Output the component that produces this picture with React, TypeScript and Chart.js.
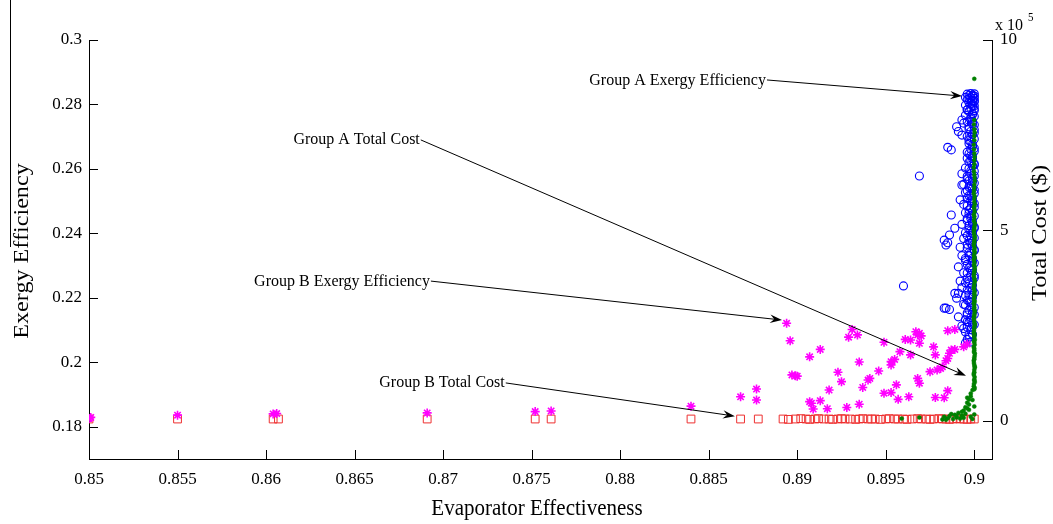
import React, { useEffect, useRef } from "react";
import { Chart, registerables } from "chart.js";

Chart.register(...registerables);

const FONT = '"Liberation Serif", "Times New Roman", serif';

const X_TICKS = [0.85, 0.855, 0.86, 0.865, 0.87, 0.875, 0.88, 0.885, 0.89, 0.895, 0.9];
const EFF_TICKS = [0.18, 0.2, 0.22, 0.24, 0.26, 0.28, 0.3];
const COST_TICKS = [0, 5, 10];

// Group A exergy efficiency (x = evaporator effectiveness, y = exergy efficiency)
const groupAExergy: [number, number][] = [
  [0.8996, 0.2832], [0.8998, 0.2834], [0.9, 0.2833], [0.8997, 0.2828], [0.8999, 0.2829], [0.9, 0.2826],
  [0.8995, 0.2822], [0.8998, 0.2821], [0.9, 0.2819], [0.8996, 0.2815], [0.8999, 0.2813], [0.9, 0.2809],
  [0.8997, 0.2806], [0.8999, 0.2801], [0.8995, 0.2798], [0.9, 0.2796], [0.8998, 0.279], [0.8996, 0.2784],
  [0.9, 0.2781], [0.8999, 0.2772],
  [0.8993, 0.2752], [0.899, 0.2731], [0.8991, 0.2716], [0.8994, 0.2742], [0.8993, 0.2705], [0.8996, 0.2783],
  [0.8995, 0.2767], [0.8998, 0.276], [0.8999, 0.2748], [0.9, 0.2737], [0.8997, 0.2724], [0.9, 0.2712],
  [0.8998, 0.2698], [0.8985, 0.2667], [0.8987, 0.2659], [0.8997, 0.2688], [0.8999, 0.2676], [0.9, 0.2664],
  [0.8996, 0.2652], [0.8998, 0.2641], [0.8969, 0.2578],
  [0.8999, 0.2632], [0.8997, 0.2621], [0.9, 0.2612], [0.8995, 0.2603], [0.8998, 0.2594], [0.8993, 0.2585],
  [0.9, 0.2578], [0.8996, 0.2569], [0.8999, 0.256], [0.8994, 0.2552], [0.8993, 0.255], [0.8992, 0.2504],
  [0.8997, 0.2544], [0.9, 0.2535], [0.8995, 0.2527], [0.8998, 0.2518], [0.8996, 0.2509], [0.8999, 0.2498],
  [0.8994, 0.249], [0.9, 0.2481], [0.8997, 0.2473], [0.8995, 0.2464], [0.8987, 0.2457], [0.8989, 0.2416],
  [0.8998, 0.2455], [0.8996, 0.2446], [0.8999, 0.2437], [0.8993, 0.2428], [0.9, 0.242], [0.8997, 0.2411],
  [0.8995, 0.2402],
  [0.8983, 0.2379], [0.8984, 0.2364], [0.8986, 0.2395], [0.8985, 0.2371], [0.8998, 0.2393], [0.8994, 0.2384],
  [0.8999, 0.2375], [0.8996, 0.2366], [0.8992, 0.2357], [0.9, 0.2349], [0.8997, 0.234], [0.8993, 0.2331],
  [0.8995, 0.2322], [0.8999, 0.2313], [0.8996, 0.2304], [0.8991, 0.2296], [0.8998, 0.2287], [0.8994, 0.2278],
  [0.9, 0.2269], [0.8996, 0.226], [0.8992, 0.2252], [0.8997, 0.2243], [0.896, 0.2237], [0.8993, 0.2232],
  [0.8999, 0.2225], [0.8989, 0.2214], [0.899, 0.2199], [0.8991, 0.2214], [0.8995, 0.2207], [0.8997, 0.219],
  [0.8984, 0.2168], [0.8983, 0.2168], [0.8986, 0.2164], [0.8994, 0.218], [0.8998, 0.2172], [0.8991, 0.2141],
  [0.8993, 0.2113], [0.8994, 0.2105], [0.8996, 0.2126], [0.8999, 0.2116], [0.8998, 0.2131], [0.8996, 0.2153],
  [0.9, 0.2148], [0.8995, 0.206], [0.8997, 0.2085],
  [0.8999, 0.2827], [0.8997, 0.2818], [0.9, 0.2811], [0.8998, 0.2803], [0.8999, 0.2795], [0.9, 0.2787],
  [0.8997, 0.2778], [0.8999, 0.2769], [0.9, 0.2763], [0.8998, 0.2755], [0.8996, 0.2746], [0.8999, 0.2739],
  [0.8997, 0.2731], [0.9, 0.2722], [0.8998, 0.2716], [0.8999, 0.2707], [0.8996, 0.2701], [0.9, 0.2693],
  [0.8998, 0.2685], [0.8997, 0.2679], [0.8999, 0.267], [0.8998, 0.2662], [0.9, 0.2655], [0.8997, 0.2647],
  [0.8999, 0.2639], [0.8996, 0.2633], [0.8998, 0.2625], [0.9, 0.2616], [0.8999, 0.2609], [0.8997, 0.2601],
  [0.9, 0.2593], [0.8998, 0.2586], [0.8996, 0.2577], [0.8999, 0.2571], [0.8997, 0.2563], [0.9, 0.2556],
  [0.8998, 0.2548], [0.8999, 0.2539], [0.8996, 0.2532], [0.9, 0.2524], [0.8997, 0.2517], [0.8999, 0.2508],
  [0.8998, 0.2501], [0.9, 0.2493], [0.8996, 0.2486], [0.8998, 0.2478], [0.8999, 0.2469], [0.8997, 0.2462],
  [0.9, 0.2454], [0.8998, 0.2447], [0.8996, 0.2439], [0.8999, 0.243], [0.8997, 0.2424], [0.9, 0.2416],
  [0.8998, 0.2408], [0.8999, 0.2401], [0.8996, 0.2393], [0.9, 0.2386], [0.8997, 0.2378], [0.8998, 0.2369],
  [0.8999, 0.2362], [0.8996, 0.2355], [0.9, 0.2347], [0.8998, 0.2338], [0.8997, 0.2331], [0.8999, 0.2323],
  [0.8995, 0.2316], [0.9, 0.2308], [0.8998, 0.23], [0.8997, 0.2293], [0.8999, 0.2285], [0.8996, 0.2277],
  [0.8998, 0.227], [0.9, 0.2262], [0.8997, 0.2254], [0.8995, 0.2247], [0.8999, 0.2239], [0.8998, 0.2231],
  [0.8996, 0.2224], [0.9, 0.2216], [0.8997, 0.2209], [0.8999, 0.2201], [0.8996, 0.2193], [0.8998, 0.2186],
  [0.8995, 0.2178], [0.9, 0.217], [0.8997, 0.2162], [0.8999, 0.2155], [0.8996, 0.2147], [0.8998, 0.2139],
  [0.8995, 0.2132], [0.8997, 0.2124], [0.9, 0.2117], [0.8996, 0.2109], [0.8998, 0.2101], [0.8995, 0.2094],
  [0.8999, 0.2086], [0.8997, 0.2078], [0.8996, 0.2071], [0.8998, 0.2063],
];

// Group A total cost (x = evaporator effectiveness, y = cost in units of 10^5 $)
const groupACost: [number, number][] = [
  [0.8959, 0.06], [0.8969, 0.09], [0.8982, 0.04], [0.8983, 0.11], [0.8985, 0.07], [0.8986, 0.13],
  [0.8988, 0.05], [0.8989, 0.16], [0.899, 0.09], [0.8991, 0.21], [0.8992, 0.06], [0.8993, 0.14],
  [0.8994, 0.27], [0.8994, 0.08], [0.8995, 0.36], [0.8995, 0.19], [0.8996, 0.48], [0.8996, 0.61],
  [0.8997, 0.43], [0.8997, 0.29], [0.8998, 0.72], [0.8998, 0.11], [0.8999, 0.55], [0.8999, 0.05],
  [0.9, 0.17], [0.9, 0.38], [0.8987, 0.18], [0.8993, 0.24], [0.8996, 0.33], [0.8997, 0.56],
  [0.8998, 0.65], [0.8999, 0.81], [0.8984, 0.03], [0.899, 0.12],
  [0.9, 0.83], [0.89997, 0.91], [0.90003, 1.02], [0.9, 1.09], [0.89997, 1.21], [0.9, 1.28],
  [0.90003, 1.4], [0.9, 1.47], [0.89997, 1.58], [0.9, 1.66], [0.90003, 1.77], [0.9, 1.85],
  [0.89997, 1.94], [0.9, 2.06], [0.90003, 2.13], [0.9, 2.24], [0.89997, 2.31], [0.9, 2.43],
  [0.90003, 2.52], [0.9, 2.6], [0.89997, 2.71], [0.9, 2.79], [0.90003, 2.9], [0.9, 2.98],
  [0.89997, 3.09], [0.9, 3.17], [0.90003, 3.28], [0.9, 3.36], [0.89997, 3.47], [0.9, 3.55],
  [0.90003, 3.66], [0.9, 3.74], [0.89997, 3.85], [0.9, 3.93], [0.90003, 4.04], [0.9, 4.12],
  [0.89997, 4.23], [0.9, 4.31], [0.90003, 4.42], [0.9, 4.5], [0.89997, 4.61], [0.9, 4.69],
  [0.90003, 4.8], [0.9, 4.88], [0.89997, 4.99], [0.9, 5.08], [0.90003, 5.19], [0.9, 5.31],
  [0.89997, 5.42], [0.9, 5.56], [0.90003, 5.68], [0.9, 5.83], [0.89997, 5.97], [0.9, 6.12],
  [0.90003, 6.3], [0.9, 6.46], [0.89997, 6.65], [0.9, 6.84], [0.9, 7.02], [0.89997, 7.25],
  [0.9, 7.48], [0.9, 7.66], [0.9, 7.9], [0.9, 8.98],
  [0.90002, 0.87], [0.89998, 0.97], [0.9, 1.06], [0.90002, 1.15], [0.89998, 1.25], [0.9, 1.34],
  [0.90002, 1.43], [0.89998, 1.52], [0.9, 1.62], [0.90002, 1.71], [0.89998, 1.81], [0.9, 1.9],
  [0.90002, 2.0], [0.89998, 2.1], [0.9, 2.19], [0.90002, 2.28], [0.89998, 2.37], [0.9, 2.47],
  [0.90002, 2.56], [0.89998, 2.66], [0.9, 2.75], [0.90002, 2.85], [0.89998, 2.94], [0.9, 3.04],
  [0.90002, 3.13], [0.89998, 3.22], [0.9, 3.32], [0.90002, 3.41], [0.89998, 3.51], [0.9, 3.6],
  [0.90002, 3.7], [0.89998, 3.79], [0.9, 3.89], [0.90002, 3.98], [0.89998, 4.08], [0.9, 4.17],
  [0.90002, 4.27], [0.89998, 4.36], [0.9, 4.46], [0.90002, 4.55], [0.89998, 4.65], [0.9, 4.74],
  [0.90002, 4.84], [0.89998, 4.93], [0.9, 5.03], [0.90002, 5.13], [0.89998, 5.25], [0.9, 5.37],
  [0.90002, 5.49], [0.89998, 5.62], [0.9, 5.75], [0.90002, 5.9], [0.89998, 6.04], [0.9, 6.2],
  [0.90002, 6.38], [0.89998, 6.55], [0.9, 6.74], [0.90002, 6.93], [0.89998, 7.13], [0.9, 7.37],
  [0.90002, 7.57], [0.89998, 7.78],
];

// Group B exergy efficiency
const groupBExergy: [number, number][] = [
  [0.85, 0.1826], [0.8501, 0.1829], [0.855, 0.1836], [0.8604, 0.184], [0.8606, 0.1841], [0.8691, 0.1843],
  [0.8752, 0.1847], [0.8761, 0.1849], [0.884, 0.1864],
  [0.8868, 0.1893], [0.8877, 0.1917], [0.8877, 0.1883],
  [0.8894, 0.2121], [0.8896, 0.2067], [0.8907, 0.2017], [0.8913, 0.204], [0.8897, 0.1961], [0.8899, 0.1958],
  [0.89, 0.1957], [0.8931, 0.2102], [0.8929, 0.2078], [0.8934, 0.2085], [0.8949, 0.2062], [0.8935, 0.2001],
  [0.8923, 0.1969], [0.8925, 0.194], [0.8918, 0.1914], [0.894, 0.1945], [0.8941, 0.195], [0.8946, 0.1973],
  [0.8937, 0.1922], [0.8907, 0.1878], [0.8908, 0.1873], [0.8909, 0.1855], [0.8913, 0.1881], [0.8917, 0.1856],
  [0.8928, 0.186], [0.8935, 0.187], [0.8949, 0.1904], [0.8953, 0.1906], [0.8953, 0.2002], [0.8955, 0.2009],
  [0.8953, 0.1992], [0.8956, 0.193], [0.8957, 0.1885], [0.8958, 0.2033],
  [0.8967, 0.2095], [0.8969, 0.209], [0.8968, 0.2085], [0.897, 0.2082], [0.8961, 0.2071], [0.8964, 0.2069],
  [0.8969, 0.2059], [0.8985, 0.2098], [0.8989, 0.2102], [0.8964, 0.2023], [0.8977, 0.2048], [0.8978, 0.2023],
  [0.8987, 0.2038], [0.8989, 0.204], [0.8986, 0.2028], [0.8994, 0.2048], [0.8996, 0.2057], [0.8985, 0.2012],
  [0.8984, 0.2005], [0.8981, 0.1981], [0.8979, 0.1976], [0.8982, 0.1986], [0.8975, 0.1971], [0.8968, 0.195],
  [0.8969, 0.1935], [0.8963, 0.1893], [0.8978, 0.1891], [0.8983, 0.189], [0.8985, 0.1912],
];

// Group B total cost (units of 10^5 $)
const groupBCost: [number, number][] = [
  [0.85, 0.05], [0.855, 0.05], [0.8604, 0.05], [0.8607, 0.05], [0.8691, 0.05], [0.8752, 0.05],
  [0.8761, 0.05], [0.884, 0.05], [0.8868, 0.05], [0.8878, 0.05],
  [0.8892, 0.05], [0.8895, 0.04], [0.8899, 0.05], [0.8902, 0.06],
  [0.8905, 0.05], [0.8907, 0.04], [0.891, 0.05], [0.8912, 0.06], [0.8915, 0.05], [0.8918, 0.05],
  [0.892, 0.04], [0.8923, 0.05], [0.8925, 0.06], [0.8927, 0.05], [0.893, 0.05], [0.8933, 0.04],
  [0.8935, 0.05], [0.8937, 0.06], [0.894, 0.05], [0.8942, 0.05],
  [0.8944, 0.05], [0.8947, 0.04], [0.895, 0.05], [0.8952, 0.06], [0.8955, 0.05], [0.8957, 0.05],
  [0.896, 0.05], [0.8962, 0.04], [0.8965, 0.05], [0.8968, 0.06], [0.897, 0.05], [0.8973, 0.05],
  [0.8975, 0.04], [0.8977, 0.05], [0.898, 0.06], [0.8982, 0.05], [0.8984, 0.05], [0.8986, 0.04],
  [0.8988, 0.05], [0.899, 0.06], [0.8992, 0.05], [0.8994, 0.05], [0.8996, 0.04], [0.8998, 0.05],
  [0.9, 0.05],
];

// annotation labels: text, line start and arrow tip in (effectiveness, exergy efficiency)
const annotations = [
  { text: "Group A Exergy Efficiency", from: [0.88829, 0.2876], to: [0.89931, 0.2826] },
  { text: "Group A Total Cost", from: [0.86874, 0.269], to: [0.89953, 0.1958] },
  { text: "Group B Exergy Efficiency", from: [0.86931, 0.2252], to: [0.88914, 0.2131] },
  { text: "Group B Total Cost", from: [0.87354, 0.1936], to: [0.88648, 0.1833] },
];

function drawArrow(ctx: CanvasRenderingContext2D, x1: number, y1: number, x2: number, y2: number) {
  const ang = Math.atan2(y2 - y1, x2 - x1);
  const dx = Math.cos(ang), dy = Math.sin(ang);
  const px = -dy, py = dx;
  const L = 12, W = 4.2;
  ctx.beginPath();
  ctx.moveTo(x1, y1);
  ctx.lineTo(x2 - dx * L * 0.6, y2 - dy * L * 0.6);
  ctx.stroke();
  ctx.beginPath();
  ctx.moveTo(x2, y2);
  ctx.lineTo(x2 - dx * L + px * W, y2 - dy * L + py * W);
  ctx.lineTo(x2 - dx * L * 0.65, y2 - dy * L * 0.65);
  ctx.lineTo(x2 - dx * L - px * W, y2 - dy * L - py * W);
  ctx.closePath();
  ctx.fill();
}

// horizontal text, slightly taller than wide like the reference
function hText(ctx: CanvasRenderingContext2D, s: string, x: number, y: number, sy = 1.1) {
  ctx.save();
  ctx.translate(x, y);
  ctx.scale(1, sy);
  ctx.fillText(s, 0, 0);
  ctx.restore();
}

// vertical text reading bottom-to-top, stretched along its length
function vText(ctx: CanvasRenderingContext2D, s: string, x: number, y: number, sl = 1.15) {
  ctx.save();
  ctx.translate(x, y);
  ctx.rotate(-Math.PI / 2);
  ctx.scale(sl, 1);
  ctx.fillText(s, 0, 0);
  ctx.restore();
}

const overlay = {
  id: "overlay",
  afterDraw(chart: any) {
    const { ctx, chartArea: ca, scales } = chart;
    const xs = scales.x, yl = scales.y, yr = scales.y1;
    ctx.save();
    ctx.strokeStyle = "#000";
    ctx.fillStyle = "#000";
    ctx.lineWidth = 1;
    // inward tick marks
    ctx.beginPath();
    X_TICKS.forEach((v) => {
      const p = Math.round(xs.getPixelForValue(v)) + 0.5;
      ctx.moveTo(p, ca.bottom);
      ctx.lineTo(p, ca.bottom - 9);
    });
    EFF_TICKS.forEach((v) => {
      const p = Math.round(yl.getPixelForValue(v)) + 0.5;
      ctx.moveTo(ca.left, p);
      ctx.lineTo(ca.left + 9, p);
    });
    COST_TICKS.forEach((v) => {
      const p = Math.round(yr.getPixelForValue(v)) + 0.5;
      ctx.moveTo(ca.right, p);
      ctx.lineTo(ca.right - 9, p);
    });
    ctx.stroke();

    // exponent label
    ctx.textAlign = "left";
    ctx.textBaseline = "alphabetic";
    ctx.font = `16px ${FONT}`;
    hText(ctx, "x 10", 995, 30);
    ctx.font = `11px ${FONT}`;
    hText(ctx, "5", 1028, 21);

    // axis titles
    ctx.font = `21px ${FONT}`;
    ctx.textAlign = "center";
    hText(ctx, "Evaporator Effectiveness", 537, 515, 1.12);
    vText(ctx, "Exergy Efficiency", 28, 251, 1.15);
    vText(ctx, "Total Cost ($)", 1046, 233, 1.17);
    ctx.beginPath();
    ctx.moveTo(10.5, 0);
    ctx.lineTo(10.5, 247);
    ctx.stroke();

    // annotations
    ctx.font = `16px ${FONT}`;
    ctx.textAlign = "right";
    ctx.textBaseline = "middle";
    annotations.forEach((a) => {
      const x1 = xs.getPixelForValue(a.from[0]);
      const y1 = yl.getPixelForValue(a.from[1]);
      const x2 = xs.getPixelForValue(a.to[0]);
      const y2 = yl.getPixelForValue(a.to[1]);
      hText(ctx, a.text, x1 - 1, y1, 1.08);
      drawArrow(ctx, x1, y1, x2, y2);
    });
    ctx.restore();
  },
};

const toPts = (arr: [number, number][]) => arr.map(([x, y]) => ({ x, y }));

export default function App() {
  const ref = useRef<HTMLCanvasElement>(null);
  useEffect(() => {
    const tickFont = { family: FONT, size: 17 };
    const chart = new Chart(ref.current as HTMLCanvasElement, {
      type: "scatter",
      data: {
        datasets: [
          {
            label: "Group A Total Cost",
            data: toPts(groupACost),
            yAxisID: "y1",
            pointStyle: "circle",
            pointRadius: 2,
            backgroundColor: "#008000",
            borderColor: "#008000",
            borderWidth: 0.5,
            order: 0,
          },
          {
            label: "Group B Exergy Efficiency",
            data: toPts(groupBExergy),
            yAxisID: "y",
            pointStyle: "star",
            pointRadius: 4.5,
            borderColor: "#ff00ff",
            backgroundColor: "#ff00ff",
            borderWidth: 1.6,
            order: 1,
          },
          {
            label: "Group B Total Cost",
            data: toPts(groupBCost),
            yAxisID: "y1",
            pointStyle: "rect",
            pointRadius: 5.5,
            borderColor: "#ee3030",
            backgroundColor: "rgba(0,0,0,0)",
            borderWidth: 1,
            order: 2,
          },
          {
            label: "Group A Exergy Efficiency",
            data: toPts(groupAExergy),
            yAxisID: "y",
            pointStyle: "circle",
            pointRadius: 4,
            borderColor: "#0000ff",
            backgroundColor: "rgba(0,0,0,0)",
            borderWidth: 1.1,
            order: 3,
          },
        ],
      } as any,
      options: {
        animation: false,
        responsive: false,
        devicePixelRatio: 1,
        events: [],
        layout: { padding: { top: 40, left: 0, right: 0, bottom: 0 } },
        plugins: { legend: { display: false }, tooltip: { enabled: false } },
        scales: {
          x: {
            type: "linear",
            position: "bottom",
            min: 0.85,
            max: 0.901,
            afterBuildTicks: (s: any) => {
              s.ticks = X_TICKS.map((v) => ({ value: v }));
            },
            afterFit: (s: any) => {
              s.height = 65;
            },
            grid: { display: false, drawTicks: false },
            border: { display: true, color: "#000", width: 1 },
            ticks: {
              padding: 10,
              color: "#000",
              font: tickFont,
              maxRotation: 0,
              autoSkip: false,
              callback: (v: any) => String(v),
            },
          },
          y: {
            type: "linear",
            position: "left",
            min: 0.17,
            max: 0.3,
            afterBuildTicks: (s: any) => {
              s.ticks = EFF_TICKS.map((v) => ({ value: v }));
            },
            afterFit: (s: any) => {
              s.width = 89;
            },
            grid: { display: false, drawTicks: false },
            border: { display: true, color: "#000", width: 1 },
            ticks: { padding: 7, color: "#000", font: tickFont, autoSkip: false, callback: (v: any) => String(v) },
          },
          y1: {
            type: "linear",
            position: "right",
            min: -1,
            max: 10,
            afterBuildTicks: (s: any) => {
              s.ticks = COST_TICKS.map((v) => ({ value: v }));
            },
            afterFit: (s: any) => {
              s.width = 61;
            },
            grid: { display: false, drawTicks: false },
            border: { display: true, color: "#000", width: 1 },
            ticks: { padding: 8, color: "#000", font: tickFont, autoSkip: false, callback: (v: any) => String(v) },
          },
        },
      } as any,
      plugins: [overlay],
    });
    return () => chart.destroy();
  }, []);
  return (
    <div style={{ position: "fixed", left: 0, top: 0, width: 1053, height: 524, background: "#fff" }}>
      <canvas ref={ref} width={1053} height={524} style={{ display: "block", width: 1053, height: 524 }} />
    </div>
  );
}
